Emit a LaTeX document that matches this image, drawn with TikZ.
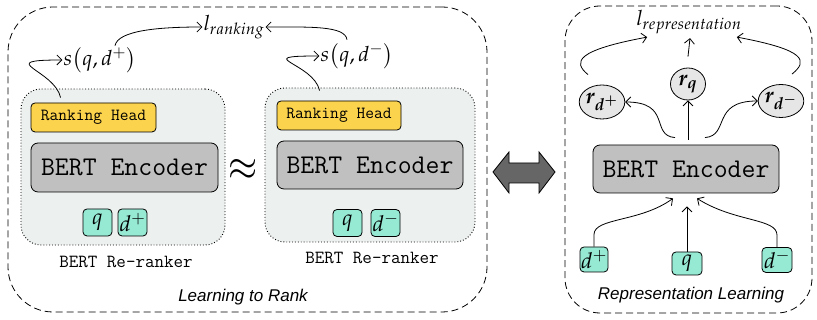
\documentclass[tikz,border=0pt]{standalone}
\usepackage{mathpazo}
\usepackage{bm}
\usepackage{fontspec}
\newfontfamily\labfont{Liberation Sans}
\usetikzlibrary{arrows.meta,calc,shapes.geometric}
\definecolor{innerfill}{RGB}{236,240,239}
\definecolor{headfill}{RGB}{252,211,77}
\definecolor{encfill}{RGB}{192,192,192}
\definecolor{infill}{RGB}{150,234,212}
\definecolor{repfill}{RGB}{230,230,230}
\definecolor{dafill}{RGB}{102,102,102}
\begin{document}
\begin{tikzpicture}[x=1pt,y=1pt,
  inner/.style={draw, dotted, line width=0.9pt, fill=innerfill, rounded corners=20pt, inner sep=0pt},
  headbox/.style={draw, fill=headfill, rounded corners=4pt, line width=0.8pt, font=\fontsize{17}{20}\ttfamily, minimum width=125pt, minimum height=29pt, inner sep=0pt},
  encbox/.style={draw, fill=encfill, rounded corners=7pt, line width=0.8pt, font=\fontsize{27}{30}\ttfamily, minimum width=187pt, minimum height=49pt, inner sep=0pt},
  inbox/.style={draw, fill=infill, rounded corners=4pt, line width=0.8pt, font=\fontsize{22}{24}\selectfont, minimum width=29pt, minimum height=27pt, inner sep=0pt},
  rep/.style={ellipse, draw, fill=repfill, line width=0.8pt, minimum width=42pt, minimum height=34pt, inner sep=0pt, font=\fontsize{22}{24}\selectfont},
  mathlab/.style={font=\fontsize{21}{24}\selectfont, inner sep=1pt},
  tlab/.style={font=\fontsize{18.5}{20}\ttfamily, inner sep=0pt},
  ilab/.style={font=\fontsize{17}{20}\labfont\itshape, inner sep=0pt},
  conn/.style={line width=0.8pt, -{Straight Barb[length=5pt,width=10pt]}},
]
\useasboundingbox (0,0) rectangle (817,320);
% outer frames
\node[draw, dash pattern=on 7pt off 4pt, line width=0.8pt, rounded corners=45pt, minimum width=479pt, minimum height=305pt, inner sep=0pt] (outerL) at (247.5,160.5) {};
\node[draw, dash pattern=on 7pt off 4pt, line width=0.8pt, rounded corners=35pt, minimum width=247pt, minimum height=307pt, inner sep=0pt] (outerR) at (688.5,160.5) {};
% inner boxes
\node[inner, minimum width=204pt, minimum height=156pt] (innerA) at (123,153) {};
\node[inner, minimum width=210pt, minimum height=154pt] (innerB) at (370,155) {};
% left reranker
\node[headbox] (rhA) at (93.5,202.5) {Ranking Head};
\node[encbox] (encA) at (124.5,152.5) {BERT Encoder};
\node[inbox] (qA) at (97.5,97.5) {$q$};
\node[inbox] (dpA) at (132.5,97.5) {$d^+$};
\node[tlab] (reA) at (126,58) {BERT Re-ranker};
% right reranker
\node[headbox, minimum width=124pt] (rhB) at (339,204.5) {Ranking Head};
\node[encbox, minimum width=186pt, minimum height=48pt] (encB) at (370,155) {BERT Encoder};
\node[inbox] (qB) at (347.5,97) {$q$};
\node[inbox] (dmB) at (385.5,97) {$d^-$};
\node[tlab] (reB) at (372,62) {BERT Re-ranker};
% approx
\node[inner sep=0pt] (approx) at (243,150) {\resizebox{30pt}{21pt}{\fontsize{44}{44}\selectfont$\approx$}};
% scores
\node[mathlab] (sA) at (100,260) {$s\bigl(q,d^+\bigr)$};
\node[mathlab] (sB) at (357,264) {$s\bigl(q,d^-\bigr)$};
\node[mathlab] (lrank) at (234,293) {$l_{ranking}$};
\node[ilab] (ltr) at (243,23) {Learning to Rank};
% double arrow
\draw[line width=0.8pt, fill=dafill] (493,148) -- (509,168) -- (509,157) -- (539,157) -- (539,168) -- (555,148) -- (539,127) -- (539,137) -- (509,137) -- (509,127) -- cycle;
% representation learning
\node[encbox, minimum width=186pt, minimum height=48pt] (encC) at (686,151) {BERT Encoder};
\node[inbox, minimum width=28pt, minimum height=25pt] (dpC) at (594,60.5) {$d^+$};
\node[inbox, minimum width=30pt, minimum height=23pt] (qC) at (687,56.5) {$q$};
\node[inbox, minimum width=30pt, minimum height=25pt] (dmC) at (777,60) {$d^-$};
\node[rep] (rdp) at (602,218) {$\bm{r_{d^+}}$};
\node[rep, minimum width=35pt, minimum height=32pt] (rq) at (688,236) {$\bm{r_{q}}$};
\node[rep, minimum width=43pt, minimum height=33pt] (rdm) at (781,219) {$\bm{r_{d^-}}$};
\node[mathlab] (lrep) at (689,298) {$l_{representation}$};
\node[ilab] (rl) at (691,25) {Representation Learning};
% connectors left
\draw[conn] ($(rhA.north west)+(30,5)$) .. controls +(-6,28) and +(-70,0) .. (sA.west);
\draw[conn] ($(sA.north)+(15,0)$) .. controls +(3,15) and +(-45,0) .. (lrank.west);
\draw[conn] ($(rhB.north west)+(43,10)$) .. controls +(-6,28) and +(-70,0) .. (sB.west);
\draw[conn] ($(sB.north)+(-10,2)$) .. controls +(-2,14) and +(45,0) .. (lrank.east);
% connectors right
\draw[conn] ($(rdp.north)+(-14,10)$) .. controls +(-16,13) and +(-70,-13) .. ($(lrep.south west)+(12,-2)$);
\draw[conn] ($(rq.north)+(0,11)$) -- ($(lrep.south)+(1,-3)$);
\draw[conn] ($(rdm.north)+(11,10)$) .. controls +(16,13) and +(70,-13) .. ($(lrep.south east)+(-6,-2)$);
\draw[conn] ($(encC.north)+(2,5)$) -- (rq.south);
\draw[conn] ($(encC.north)+(-11,7)$) .. controls +(-25,2) and +(47,0) .. (rdp.east);
\draw[conn] ($(encC.north)+(19,7)$) .. controls +(25,2) and +(-47,0) .. (rdm.west);
\draw[conn] (dpC.north) -- ++(0,12) .. controls +(0,17) and +(-33,-24) .. ($(encC.south)+(-13,-5)$);
\draw[conn] (qC.north) -- ($(encC.south)+(1,-13)$);
\draw[conn] (dmC.north) -- ++(0,12) .. controls +(0,17) and +(38,-24) .. ($(encC.south)+(11,-5)$);
\end{tikzpicture}
\end{document}
